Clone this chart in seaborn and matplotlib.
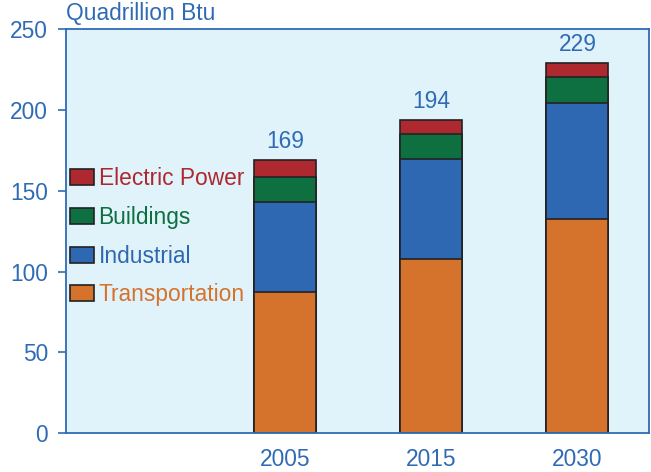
import matplotlib
matplotlib.use('Agg')
import matplotlib.pyplot as plt
import matplotlib.patches as mpatches
import seaborn as sns
import numpy as np
import pandas as pd

# data (quadrillion Btu)
years = ['2005', '2015', '2030']
transportation = [87.5, 107.6, 132.4]
industrial = [55.8, 62.0, 71.9]
buildings = [15.3, 15.7, 16.5]
electric_power = [10.4, 8.7, 8.2]
totals = [169, 194, 229]

sectors = ['Electric Power', 'Buildings', 'Industrial', 'Transportation']
colors = {'Transportation': '#D5732C', 'Industrial': '#2F68B2',
          'Buildings': '#0E7041', 'Electric Power': '#AE2830'}
text_blue = '#2F6BB5'
bg = '#E1F3FA'
fs = 16.4

sns.set_style('white')
plt.rcParams['font.family'] = ['Liberation Sans', 'DejaVu Sans']

df = pd.DataFrame({'year': years, 'Transportation': transportation,
                   'Industrial': industrial, 'Buildings': buildings,
                   'Electric Power': electric_power})
# cumulative tops, drawn from the largest down
df['c_trans'] = df['Transportation']
df['c_ind'] = df['c_trans'] + df['Industrial']
df['c_bld'] = df['c_ind'] + df['Buildings']
df['c_elec'] = df['c_bld'] + df['Electric Power']

order = [''] + years
fig = plt.figure(figsize=(6.51, 4.72), dpi=100)
ax = fig.add_axes([0.1014, 0.0826, 0.8956, 0.855])
ax.set_facecolor(bg)

for col, name in [('c_elec', 'Electric Power'), ('c_bld', 'Buildings'),
                  ('c_ind', 'Industrial'), ('c_trans', 'Transportation')]:
    sns.barplot(data=df, x='year', y=col, order=order, color=colors[name],
                saturation=1, width=0.425, edgecolor='#222222', linewidth=1.2, ax=ax)

for i, (yr, tot) in enumerate(zip(years, totals)):
    ax.annotate(str(tot), (i + 1, df['c_elec'][i]), xytext=(0, 5), textcoords='offset points',
                ha='center', va='bottom', fontsize=fs, color=text_blue)

ax.set_xlim(-0.5, 3.49)
ax.set_ylim(0, 250)
ax.set_yticks(range(0, 251, 50))
ax.set_xlabel('')
ax.set_ylabel('')
ax.tick_params(axis='y', length=6, width=1.2, color=text_blue, pad=7, labelsize=fs, labelcolor=text_blue, left=True)
ax.tick_params(axis='x', length=0, pad=11, labelsize=fs, labelcolor=text_blue)
for s in ax.spines.values():
    s.set_color(text_blue)
    s.set_linewidth(1.3)

ax.text(0, 1.01, 'Quadrillion Btu', transform=ax.transAxes, ha='left', va='bottom',
        fontsize=fs, color=text_blue)

handles = [mpatches.Patch(facecolor=colors[s], edgecolor='#222222', linewidth=1.2) for s in sectors]
ax.legend(handles, sectors, loc='upper left', bbox_to_anchor=(0.007, 0.659), frameon=False,
          borderaxespad=0, borderpad=0, fontsize=fs, handlelength=1.05, handleheight=0.7,
          handletextpad=0.2, labelspacing=0.69, labelcolor=[colors[s] for s in sectors])

plt.savefig('out.png', dpi=100)
